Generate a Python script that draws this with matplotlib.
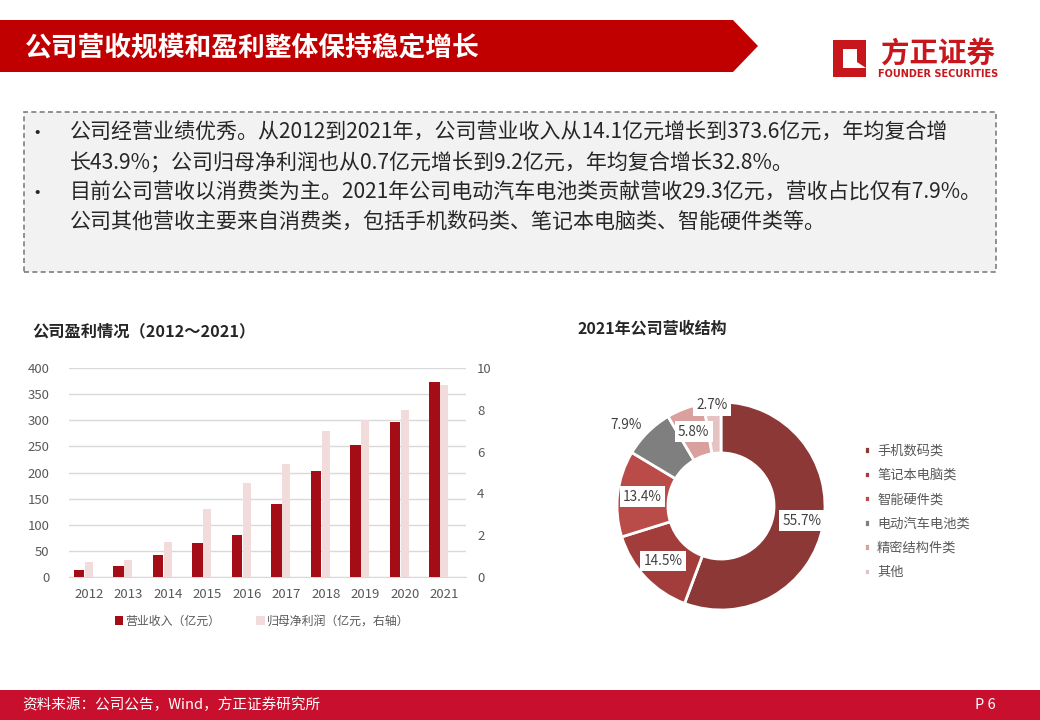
import matplotlib
matplotlib.use("Agg")
import matplotlib.pyplot as plt
from matplotlib.patches import Polygon, Rectangle
import numpy as np

plt.rcParams['font.family'] = ['Noto Sans CJK SC', 'DejaVu Sans']

# ---------------- data ----------------
years = ['2012', '2013', '2014', '2015', '2016', '2017', '2018', '2019', '2020', '2021']
revenue = [14.1, 22, 43, 65, 81, 140, 203, 253, 297, 373.6]          # 亿元, left axis
net_profit = [0.7, 0.8, 1.68, 3.25, 4.5, 5.42, 7.0, 7.5, 8.0, 9.2]   # 亿元, right axis
rev_label = '营业收入（亿元）'
np_label = '归母净利润（亿元，右轴）'

seg_names = ['手机数码类', '笔记本电脑类', '智能硬件类', '电动汽车电池类', '精密结构件类', '其他']
seg_share = [55.7, 14.5, 13.4, 7.9, 5.8, 2.7]

left_ticks = [0, 50, 100, 150, 200, 250, 300, 350, 400]
right_ticks = [0, 2, 4, 6, 8, 10]

title_text = '公司营收规模和盈利整体保持稳定增长'
bullets = [
    ['公司经营业绩优秀。从2012到2021年，公司营业收入从14.1亿元增长到373.6亿元，年均复合增',
     '长43.9%；公司归母净利润也从0.7亿元增长到9.2亿元，年均复合增长32.8%。'],
    ['目前公司营收以消费类为主。2021年公司电动汽车电池类贡献营收29.3亿元，营收占比仅有7.9%。',
     '公司其他营收主要来自消费类，包括手机数码类、笔记本电脑类、智能硬件类等。'],
]
chart1_title = '公司盈利情况（2012～2021）'
chart2_title = '2021年公司营收结构'
source_text = '资料来源：公司公告，Wind，方正证券研究所'
page_text = 'P 6'

# ---------------- figure ----------------
W, H = 1040, 720
fig = plt.figure(figsize=(W / 100, H / 100), dpi=100)
fig.patch.set_facecolor('white')

def fx(px):
    return px / W

def fy(py):
    return 1 - py / H

# title bar
bar = Polygon([[fx(0), fy(20)], [fx(733), fy(20)], [fx(758), fy(46)], [fx(733), fy(72)], [fx(0), fy(72)]],
              closed=True, transform=fig.transFigure, facecolor='#C00000', edgecolor='none')
fig.patches.append(bar)
fig.text(fx(25), fy(47), title_text, color='white', fontsize=19.3, fontweight='bold', va='center', ha='left')

# logo
logo_col = '#C8161D'
logo_pts = [[833, 40], [866, 40], [866, 49], [843, 49], [843, 68], [866, 68], [866, 77], [833, 77]]
fig.patches.append(Polygon([[fx(x), fy(y)] for x, y in logo_pts], closed=True, transform=fig.transFigure,
                           facecolor=logo_col, edgecolor='none'))
fig.patches.append(Polygon([[fx(x), fy(y)] for x, y in [[857, 49], [866, 49], [866, 68], [857, 62]]], closed=True,
                           transform=fig.transFigure, facecolor=logo_col, edgecolor='none'))
fig.text(fx(938), fy(55), '方正证券', color=logo_col, fontsize=20.5, fontweight='bold', ha='center', va='center')
fig.text(fx(938), fy(74), 'FOUNDER SECURITIES', color=logo_col, fontsize=7, fontweight='bold',
         ha='center', va='center', family=['DejaVu Sans'])

# text box
box = Rectangle((fx(24), fy(272)), fx(996) - fx(24), fy(112) - fy(272), transform=fig.transFigure,
                facecolor='#F2F2F2', edgecolor='#7F7F7F', linestyle=(0, (3, 2)), linewidth=1.2)
fig.patches.append(box)
line_y = [133, 163, 193, 222]
k = 0
for para in bullets:
    fig.text(fx(37), fy(line_y[k]), '•', fontsize=14, color='#262626', ha='center', va='center')
    for ln in para:
        fig.text(fx(70), fy(line_y[k]), ln, fontsize=15.1, color='#262626', ha='left', va='center')
        k += 1

# footer
fig.patches.append(Rectangle((0, 0), 1, fy(690), transform=fig.transFigure, facecolor='#C8102E', edgecolor='none'))
fig.text(fx(22), fy(705), source_text, color='white', fontsize=10.5, style='italic', ha='left', va='center')
fig.text(fx(985), fy(705), page_text, color='white', fontsize=10.5, ha='center', va='center')

# ---------------- chart 1: bars ----------------
fig.text(fx(32), fy(331), chart1_title, fontsize=11.7, fontweight='bold', color='#262626', ha='left', va='center')

ax = fig.add_axes([fx(69), fy(577), fx(466) - fx(69), fy(368) - fy(577)])
ax2 = ax.twinx()
x = np.arange(len(years))
b1 = ax.bar(x - 0.25, revenue, width=0.26, color='#A50D16', zorder=3, label=rev_label)
b2 = ax2.bar(x, net_profit, width=0.2, color='#F2DCDB', zorder=3, label=np_label)
ax.set_ylim(0, 400)
ax2.set_ylim(0, 10)
ax.set_xlim(-0.5, 9.55)
ax.set_yticks(left_ticks)
ax2.set_yticks(right_ticks)
ax.set_xticks(x)
ax.set_xticklabels(years)
for a in (ax, ax2):
    for s in a.spines.values():
        s.set_visible(False)
    a.tick_params(length=0, labelsize=9.5, labelcolor='#595959')
ax.spines['bottom'].set_visible(True)
ax.spines['bottom'].set_color('#D9D9D9')
ax.yaxis.grid(True, color='#D9D9D9', linewidth=1, zorder=0)
ax.set_axisbelow(True)
ax.tick_params(axis='x', pad=8)
ax.tick_params(axis='y', pad=14)
ax2.tick_params(axis='y', pad=8)

fig.legend(handles=[b1, b2], labels=[rev_label, np_label], loc='center', bbox_to_anchor=(fx(262), fy(621)),
           ncol=2, frameon=False, fontsize=8.6, labelcolor='#595959', handlelength=0.7, handleheight=0.7,
           handletextpad=0.2, columnspacing=3.0)

# ---------------- chart 2: donut ----------------
fig.text(fx(652), fy(329), chart2_title, fontsize=11.5, fontweight='bold', color='#262626', ha='center', va='center')

pie_colors = ['#8C3836', '#A33D3B', '#B94B49', '#7F7F7F', '#D9A09E', '#E6C3C3']
pax = fig.add_axes([fx(617), fy(610), fx(825) - fx(617), fy(402) - fy(610)])
wedges, _ = pax.pie(seg_share, colors=pie_colors, startangle=90, counterclock=False,
                    wedgeprops=dict(width=0.49, edgecolor='white', linewidth=2))
pax.set_xlim(-1, 1)
pax.set_ylim(-1, 1)
pax.set_aspect('equal')

label_r = [0.79, 0.77, 0.76, 1.2, 0.76, 0.97]
label_da = [0, 0, 0, 5, 0, 0]
boxed = [True, True, True, False, True, True]
for w, val, r, da, bx in zip(wedges, seg_share, label_r, label_da, boxed):
    ang = np.deg2rad((w.theta1 + w.theta2) / 2 + da)
    lx, ly = r * np.cos(ang), r * np.sin(ang)
    kw = dict(boxstyle='square,pad=0.25', facecolor='white', edgecolor='none') if bx else None
    pax.text(lx, ly, f'{val:.1f}%', ha='center', va='center', fontsize=9.8, color='#404040', bbox=kw,
             clip_on=False)

fig.legend(handles=wedges, labels=seg_names, loc='upper left', bbox_to_anchor=(fx(852), fy(433)),
           frameon=False, fontsize=9.5, labelcolor='#595959', handlelength=0.5, handleheight=0.5,
           handletextpad=0.5, labelspacing=0.85)

fig.savefig('out.png', dpi=100, facecolor='white')
